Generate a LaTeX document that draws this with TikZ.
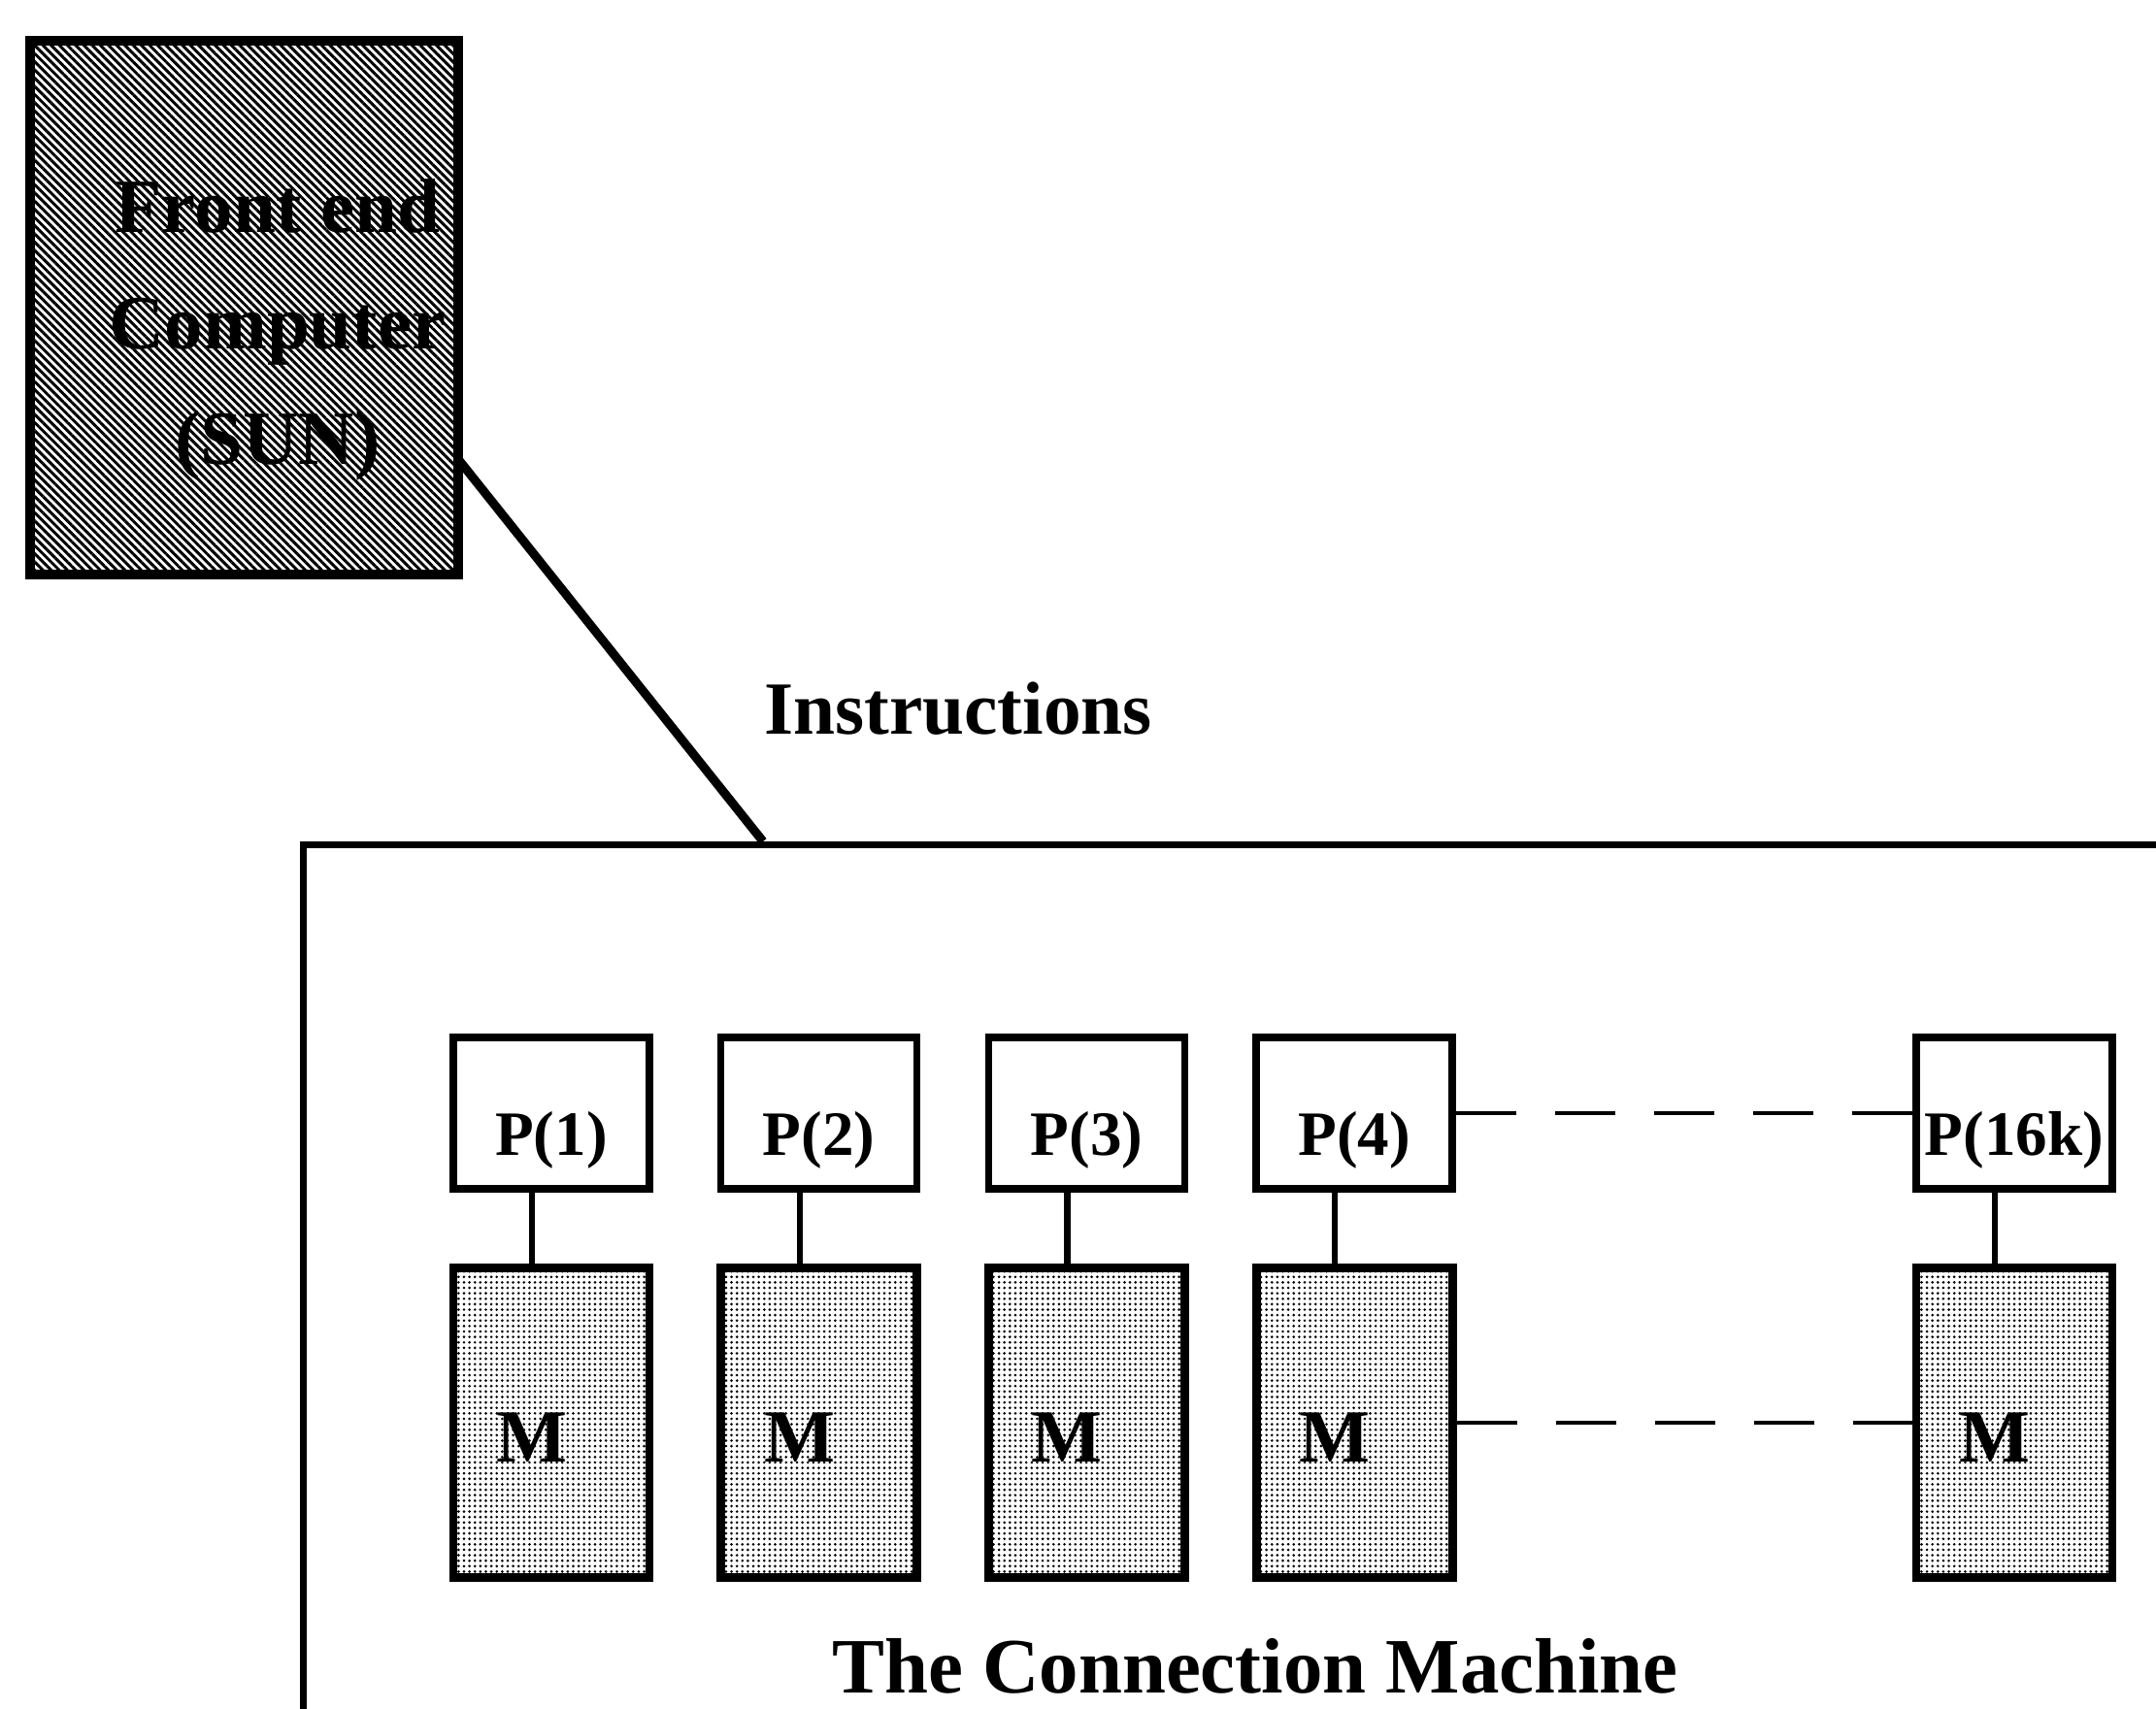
\documentclass[tikz,border=0pt]{standalone}
\usepackage{fontspec}
\setmainfont{Liberation Serif}
\usetikzlibrary{positioning,patterns.meta}
\tikzset{
    front-end/.style={
        rectangle,
        line width=2.6pt,
        draw=black,
        pattern={Lines[angle=-45,distance=1.7pt,line width=0.85pt]},
        minimum width=4.41cm,
        minimum height=5.5cm,
    },
    fe-text/.style={
        align=center,
        font=\fontsize{22.5}{34}\selectfont\bfseries,
    },
    machine/.style={
        rectangle,
        line width=2pt,
        draw=black,
        anchor=north west,
        minimum width=21cm,
        minimum height=10cm,
    },
    proc/.style={
        rectangle,
        line width=2.1pt,
        draw=black,
        fill=white,
        inner sep=1pt,
        minimum width=2.02cm,
        minimum height=1.56cm,
        text height=0.98cm,
        text depth=0.12cm,
        font=\fontsize{18.5}{22}\selectfont\bfseries,
    },
    mem/.style={
        rectangle,
        line width=2.5pt,
        draw=black,
        pattern={Dots[distance=1.6pt,radius=0.42pt]},
        inner sep=1pt,
        minimum width=2.02cm,
        minimum height=3.19cm,
        text height=0.8cm,
        text depth=0cm,
        font=\fontsize{22}{26}\selectfont\bfseries,
        execute at begin node={\hspace*{-4mm}},
    },
    caption/.style={
        font=\fontsize{22}{26}\selectfont\bfseries,
    },
    link/.style={
        draw,
        line width=2.6pt,
    },
    stub/.style={
        draw,
        line width=1.8pt,
    },
    dash-link/.style={
        draw,
        line width=1.2pt,
        dash pattern=on 6.2mm off 4mm,
    },
    node distance=2.757cm,
}
\begin{document}
\begin{tikzpicture}
    \useasboundingbox (0,0) rectangle (22.21,-17.6);
    \clip (0,0) rectangle (22.21,-17.6);
    % host and the machine frame
    \node [machine] (CM) at (3.09,-8.67) {};
    \node [front-end] (FE) at (2.515,-3.17) {};
    \node [fe-text] (FEtext) at (2.86,-3.40) {Front end\\Computer\\(SUN)};
    \coordinate (entry) at (7.86,-8.67);
    \draw [link] ([yshift=-1.58cm]FE.east) -- (entry);
    \node [caption] (instr) at (9.87,-7.30) {Instructions};
    % processors
    \node [proc] (P1) at (5.68,-11.47) {P(1)};
    \node [proc,right of=P1] (P2) {P(2)};
    \node [proc,right of=P2] (P3) {P(3)};
    \node [proc,right of=P3] (P4) {P(4)};
    \node [proc] (P16k) at (20.75,-11.47) {P(16k)};
    % memories
    \node [mem,node distance=3.19cm,below of=P1] (M1) {M};
    \node [mem,node distance=3.19cm,below of=P2] (M2) {M};
    \node [mem,node distance=3.19cm,below of=P3] (M3) {M};
    \node [mem,node distance=3.19cm,below of=P4] (M4) {M};
    \node [mem,node distance=3.19cm,below of=P16k] (M16k) {M};
    \draw [stub] ([xshift=-2mm]P1.south) -- ([xshift=-2mm]M1.north);
    \draw [stub] ([xshift=-2mm]P2.south) -- ([xshift=-2mm]M2.north);
    \draw [stub] ([xshift=-2mm]P3.south) -- ([xshift=-2mm]M3.north);
    \draw [stub] ([xshift=-2mm]P4.south) -- ([xshift=-2mm]M4.north);
    \draw [stub] ([xshift=-2mm]P16k.south) -- ([xshift=-2mm]M16k.north);
    \draw [dash-link] (P4.east) -- (P16k.west);
    \draw [dash-link] (M4.east) -- (M16k.west);
    \node [caption,font=\fontsize{23}{28}\selectfont\bfseries] (title) at (12.93,-17.17) {The Connection Machine};
\end{tikzpicture}
\end{document}
